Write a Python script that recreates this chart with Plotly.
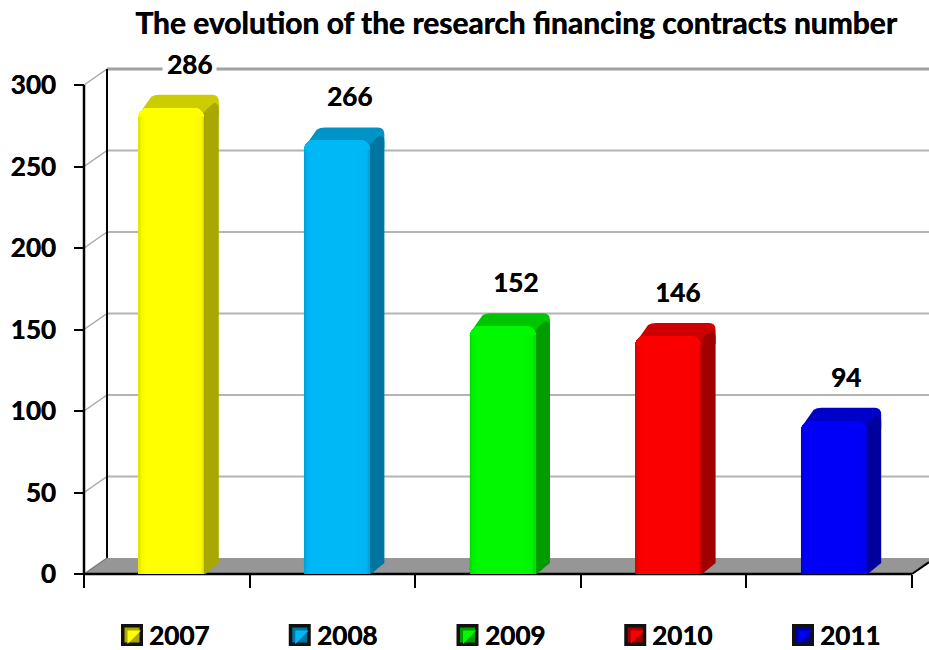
import plotly.graph_objects as go

# ---- data ----
years = ["2007", "2008", "2009", "2010", "2011"]
contracts = [286, 266, 152, 146, 94]
y_ticks = [0, 50, 100, 150, 200, 250, 300]
title_text = "The evolution of the research financing contracts number"

# ---- colours ----
front_colors = ["#ffff00", "#00b8f6", "#00f800", "#fa0000", "#0000fa"]
top_colors = ["#cccc00", "#0093c8", "#00c400", "#cc0000", "#0000c8"]
side_colors = ["#a8a800", "#00759f", "#009c00", "#a00000", "#00009c"]
label_nudge = [18, 13, 13, 9, 12]

# ---- scale helpers (pixels per data unit of the reference layout) ----
PX_X = 165.6
PX_Y = 1.63
dx = lambda px: px / PX_X
dy = lambda px: px / PX_Y
WALL_X, WALL_Y = dx(23), dy(16)
BAR_W = dx(66)
BAR_SHIFT = dx(4.5)
XMIN = -84 / PX_X
XMAX = 845 / PX_X
YMIN = -76 / PX_Y
YMAX = 574 / PX_Y
FONT = "Lato"
INK = "#000000"
HEAVY = "0.5px 0 0 #000000"


def path(items):
    out = []
    for it in items:
        if it[0] == "Q":
            out.append(f"Q{it[1]},{it[2]} {it[3]},{it[4]}")
        else:
            out.append(f"{it[0]}{it[1]},{it[2]}")
    return " ".join(out) + " Z"


shapes = []


def seg(x0, y0, x1, y1, color, width, layer="below"):
    shapes.append(dict(type="line", xref="x", yref="y", x0=x0, y0=y0, x1=x1, y1=y1,
                       line=dict(color=color, width=width), layer=layer))


# floor
shapes.append(dict(type="path", xref="x", yref="y", layer="below", fillcolor="#969696",
                   line=dict(width=0),
                   path=path([("M", 0, 0), ("L", len(years), 0),
                              ("L", len(years) + WALL_X, WALL_Y), ("L", WALL_X, WALL_Y)])))
# back wall grid + connectors
for v in y_ticks[1:]:
    top = v == y_ticks[-1]
    seg(0, v, WALL_X, v + WALL_Y, "#a6a6a6", 1.5)
    seg(WALL_X, v + WALL_Y, XMAX, v + WALL_Y, "#a0a0a0" if top else "#b4b4b4", 3 if top else 2)
# axes lines
seg(WALL_X, WALL_Y, WALL_X, y_ticks[-1] + WALL_Y, INK, 2)
seg(0, 0, 0, y_ticks[-1], INK, 2.5)
seg(0, 0, WALL_X, WALL_Y, "#7a7a7a", 1.5)
seg(0, 0, len(years), 0, INK, 2.5)
seg(len(years), 0, XMAX, dy(845 - 828) * 16 / 23, INK, 2)

# depth faces of each bar, derived from its value
for i, v in enumerate(contracts):
    L = i + 0.5 + BAR_SHIFT - BAR_W / 2
    R = L + BAR_W
    dpx, dpy = dx(14.5), dy(13)
    shapes.append(dict(type="path", xref="x", yref="y", layer="below",
                       fillcolor=top_colors[i], line=dict(width=0),
                       path=path([("M", L + dx(1), v - dy(12)),
                                  ("L", L + dx(1), v - dy(6)),
                                  ("L", L + dx(13), v + dy(11)),
                                  ("Q", L + dx(16), v + dpy, L + dx(21), v + dpy),
                                  ("L", R + dx(8), v + dpy),
                                  ("Q", R + dpx, v + dpy, R + dpx, v + dy(6)),
                                  ("L", R + dpx, v - dy(8)),
                                  ("L", R, v - dy(12))])))
    shapes.append(dict(type="path", xref="x", yref="y", layer="below",
                       fillcolor=side_colors[i], line=dict(width=0),
                       path=path([("M", R - dx(4), 0),
                                  ("L", R + dx(1), 0),
                                  ("L", R + dpx, dy(11)),
                                  ("L", R + dpx, v - dy(1)),
                                  ("Q", R + dpx, v + dy(4), R + dx(10), v + dy(5)),
                                  ("L", R + dx(5), v + dy(1)),
                                  ("L", R - dx(4), v - dy(8))])))

fig = go.Figure()

# front faces
for i, v in enumerate(contracts):
    fig.add_trace(go.Bar(x=[i + 0.5 + BAR_SHIFT], y=[v], width=BAR_W, name=years[i],
                         marker=dict(color=front_colors[i], line=dict(width=0)),
                         showlegend=False, hoverinfo="skip"))

# soft edge shading across each front face
for i, v in enumerate(contracts):
    L = i + 0.5 + BAR_SHIFT - BAR_W / 2
    R = L + BAR_W
    fig.add_trace(go.Scatter(
        x=[L, R, R, L, L], y=[0, 0, v - dy(9), v - dy(9), 0],
        mode="lines", line=dict(width=0), fill="toself", showlegend=False, hoverinfo="skip",
        fillcolor="rgba(0,0,0,0)",
        fillgradient=dict(type="horizontal", colorscale=[
            [0, "rgba(0,0,0,0.14)"], [0.05, "rgba(0,0,0,0.03)"], [0.12, "rgba(0,0,0,0)"],
            [0.8, "rgba(0,0,0,0)"], [0.95, "rgba(0,0,0,0.02)"], [1, "rgba(0,0,0,0.16)"]])))

# legend swatches
LEG_X0 = dx(132 - 84)
LEG_STEP = dx(167.75)
LEG_Y = dy(574 - 635)
leg_x = [LEG_X0 + LEG_STEP * i for i in range(len(years))]
fig.add_trace(go.Scatter(x=leg_x, y=[LEG_Y] * 5, mode="markers", showlegend=False,
                         hoverinfo="skip", marker=dict(symbol="square", size=22, color="#111111",
                                                       line=dict(width=0))))
fig.add_trace(go.Scatter(x=leg_x, y=[LEG_Y] * 5, mode="markers", showlegend=False,
                         hoverinfo="skip", marker=dict(symbol="square", size=15, color=side_colors,
                                                       line=dict(width=0))))
fig.add_trace(go.Scatter(x=leg_x, y=[LEG_Y] * 5, mode="markers", showlegend=False,
                         hoverinfo="skip", marker=dict(symbol="triangle-nw", size=15, color=front_colors,
                                                       line=dict(width=0))))

annotations = []
for i, v in enumerate(contracts):
    label = dict(x=i + 0.5 + BAR_SHIFT, y=v, xref="x", yref="y", text=f"<b>{v}</b>",
                 showarrow=False, xshift=label_nudge[i], yshift=44,
                 font=dict(family=FONT, size=26, color=INK, shadow=HEAVY))
    if v == max(contracts):
        label.update(bgcolor="#ffffff", borderpad=4)
    annotations.append(label)
    annotations.append(dict(x=leg_x[i], y=LEG_Y, xref="x", yref="y", text=f"<b>{years[i]}</b>",
                            showarrow=False, xanchor="left", xshift=15,
                            font=dict(family=FONT, size=26, color=INK, shadow=HEAVY)))

fig.update_layout(
    width=929, height=650, margin=dict(l=0, r=0, t=0, b=0),
    paper_bgcolor="#ffffff", plot_bgcolor="#ffffff", showlegend=False,
    bargap=0, barmode="overlay", barcornerradius=9, shapes=shapes, annotations=annotations,
    title=dict(text=f"<b>{title_text}</b>", x=516 / 929, xanchor="center", xref="paper",
               y=1 - 23 / 650, yanchor="middle", yref="paper",
               font=dict(family=FONT, size=30, color=INK, shadow=HEAVY)),
    xaxis=dict(range=[XMIN, XMAX], tickvals=list(range(len(years) + 1)), ticks="outside", ticklen=13,
               tickwidth=2, tickcolor=INK, showticklabels=False, showgrid=False, zeroline=False,
               showline=False, fixedrange=True, anchor="free", position=76 / 650),
    yaxis=dict(range=[YMIN, YMAX], tickvals=y_ticks, ticks="outside", ticklen=10, tickwidth=2,
               tickcolor=INK, showgrid=False, zeroline=False, showline=False, fixedrange=True,
               anchor="free", position=84 / 929, ticklabelstandoff=13,
               tickfont=dict(family=FONT, size=26, color=INK, weight="bold", shadow=HEAVY)),
)
fig.write_html("out.html", post_script="document.body.style.margin='0';",
               config={"displayModeBar": False})
